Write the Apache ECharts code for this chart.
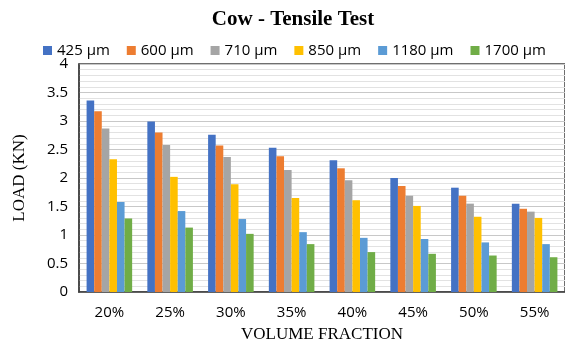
<!DOCTYPE html>
<html>
<head>
<meta charset="utf-8">
<script src="https://cdn.jsdelivr.net/npm/echarts@6/dist/echarts.min.js"></script>
<style>html,body{margin:0;padding:0;background:#fff}#c{width:565px;height:348px}</style>
</head>
<body>
<div id="c"></div>
<script>
const categories = ['20%', '25%', '30%', '35%', '40%', '45%', '50%', '55%'];
const seriesNames = ['425 µm', '600 µm', '710 µm', '850 µm', '1180 µm', '1700 µm'];
const s425  = [3.36, 2.99, 2.76, 2.53, 2.31, 2.00, 1.83, 1.55];
const s600  = [3.17, 2.80, 2.57, 2.38, 2.17, 1.86, 1.69, 1.46];
const s710  = [2.87, 2.58, 2.37, 2.14, 1.96, 1.69, 1.55, 1.41];
const s850  = [2.33, 2.02, 1.89, 1.65, 1.61, 1.51, 1.32, 1.30];
const s1180 = [1.58, 1.42, 1.28, 1.05, 0.95, 0.93, 0.87, 0.84];
const s1700 = [1.29, 1.13, 1.02, 0.84, 0.70, 0.67, 0.64, 0.61];
const colors = ['#4472C4', '#ED7D31', '#A5A5A5', '#FFC000', '#5B9BD5', '#70AD47'];
const allData = [s425, s600, s710, s850, s1180, s1700];

const chart = echarts.init(document.getElementById('c'));
chart.setOption({
  animation: false,
  color: colors,
  title: {
    text: 'Cow - Tensile Test',
    left: 288, top: 4, textAlign: 'center',
    textStyle: { fontFamily: 'Liberation Serif', fontWeight: 'bold', fontSize: 21, color: '#000' }
  },
  legend: {
    data: seriesNames,
    left: 38, top: 38,
    itemWidth: 9, itemHeight: 9, itemGap: 17,
    icon: 'rect',
    textStyle: { fontFamily: 'Open Sans', fontSize: 15, color: '#000' }
  },
  grid: { left: 79, right: -2, top: 64, bottom: 56, show: true, borderColor: '#404040', borderWidth: 1.5 },
  xAxis: {
    type: 'category', data: categories,
    name: 'VOLUME FRACTION', nameLocation: 'middle', nameGap: 34,
    nameTextStyle: { fontFamily: 'Liberation Serif', fontSize: 17, color: '#000' },
    axisTick: { show: false },
    axisLine: { lineStyle: { color: '#404040', width: 1.5 } },
    axisLabel: { fontFamily: 'Open Sans', fontSize: 15, color: '#000', margin: 13 }
  },
  yAxis: {
    type: 'value', min: 0, max: 4, interval: 0.5,
    name: 'LOAD (KN)', nameLocation: 'middle', nameGap: 51, nameRotate: 90,
    nameTextStyle: { fontFamily: 'Liberation Serif', fontSize: 17, color: '#000' },
    axisLine: { show: true, lineStyle: { color: '#404040', width: 1.5 } },
    axisLabel: { fontFamily: 'Open Sans', fontSize: 15, color: '#000', margin: 11 },
    splitLine: { lineStyle: { color: '#c8c8c8', width: 1 } },
    minorTick: { show: false, splitNumber: 5 },
    minorSplitLine: { show: true, lineStyle: { color: '#e2e2e2', width: 1 } }
  },
  series: seriesNames.map((n, i) => ({
    name: n, type: 'bar', data: allData[i],
    barGap: '0%', barCategoryGap: '25%'
  }))
});
</script>
</body>
</html>
